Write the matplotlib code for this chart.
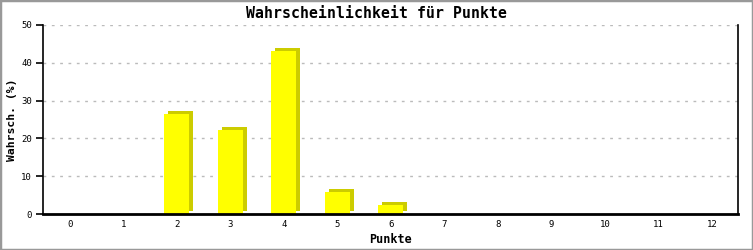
import matplotlib
matplotlib.use("Agg")
import matplotlib.pyplot as plt
import matplotlib.transforms as mtransforms
from matplotlib.patches import Rectangle

punkte = list(range(13))
wahrsch = [0, 0, 26.5, 22.2, 43.1, 5.8, 2.4, 0, 0, 0, 0, 0, 0]
yticks = [0, 10, 20, 30, 40, 50]

plt.rcParams['font.family'] = ['DejaVu Sans Mono']

fig = plt.figure(figsize=(7.53, 2.5), dpi=100)
ax = fig.add_axes([43/753, 1 - 214/250, (738.5 - 43)/753, (214 - 25)/250])

# shadow bars for the 3d look, shifted a few pixels up-right
shadow = mtransforms.offset_copy(ax.transData, fig=fig, x=4, y=3, units='dots')
ax.bar(punkte, wahrsch, width=0.47, color='#cccc00', transform=shadow, zorder=2)
ax.bar(punkte, wahrsch, width=0.47, color='#ffff00', zorder=3)

ax.set_xlim(-0.5, 12.5)
ax.set_ylim(0, 50)
ax.set_xticks(punkte)
ax.set_xticklabels([str(p) for p in punkte], fontsize=6.5)
ax.set_yticks(yticks)
ax.set_yticklabels([str(t) for t in yticks], fontsize=6.5)
ax.tick_params(axis='x', length=0, pad=4)
ax.tick_params(axis='y', length=5, width=1.2, pad=3)

ax.yaxis.grid(True, linestyle=(0, (2, 4)), color='#bbbbbb', linewidth=1)
ax.set_axisbelow(True)

ax.spines['top'].set_visible(False)
ax.spines['left'].set_linewidth(1.2)
ax.spines['right'].set_linewidth(1.2)
ax.spines['bottom'].set_linewidth(2)
ax.spines['bottom'].set_zorder(5)

# title is centred on the whole image, not on the axes
fig.text(0.5, 1 - 13/250, 'Wahrscheinlichkeit für Punkte', fontsize=10.7,
         fontweight='bold', ha='center', va='center')
ax.set_xlabel('Punkte', fontsize=8.5, fontweight='bold', labelpad=3)
ax.set_ylabel('Wahrsch. (%)', fontsize=8.2, fontweight='bold', labelpad=3)

fig.patches.append(Rectangle((0, 0), 1, 1, transform=fig.transFigure,
                             fill=False, edgecolor='#999999', linewidth=2.5))

fig.savefig('out.png', dpi=100)
